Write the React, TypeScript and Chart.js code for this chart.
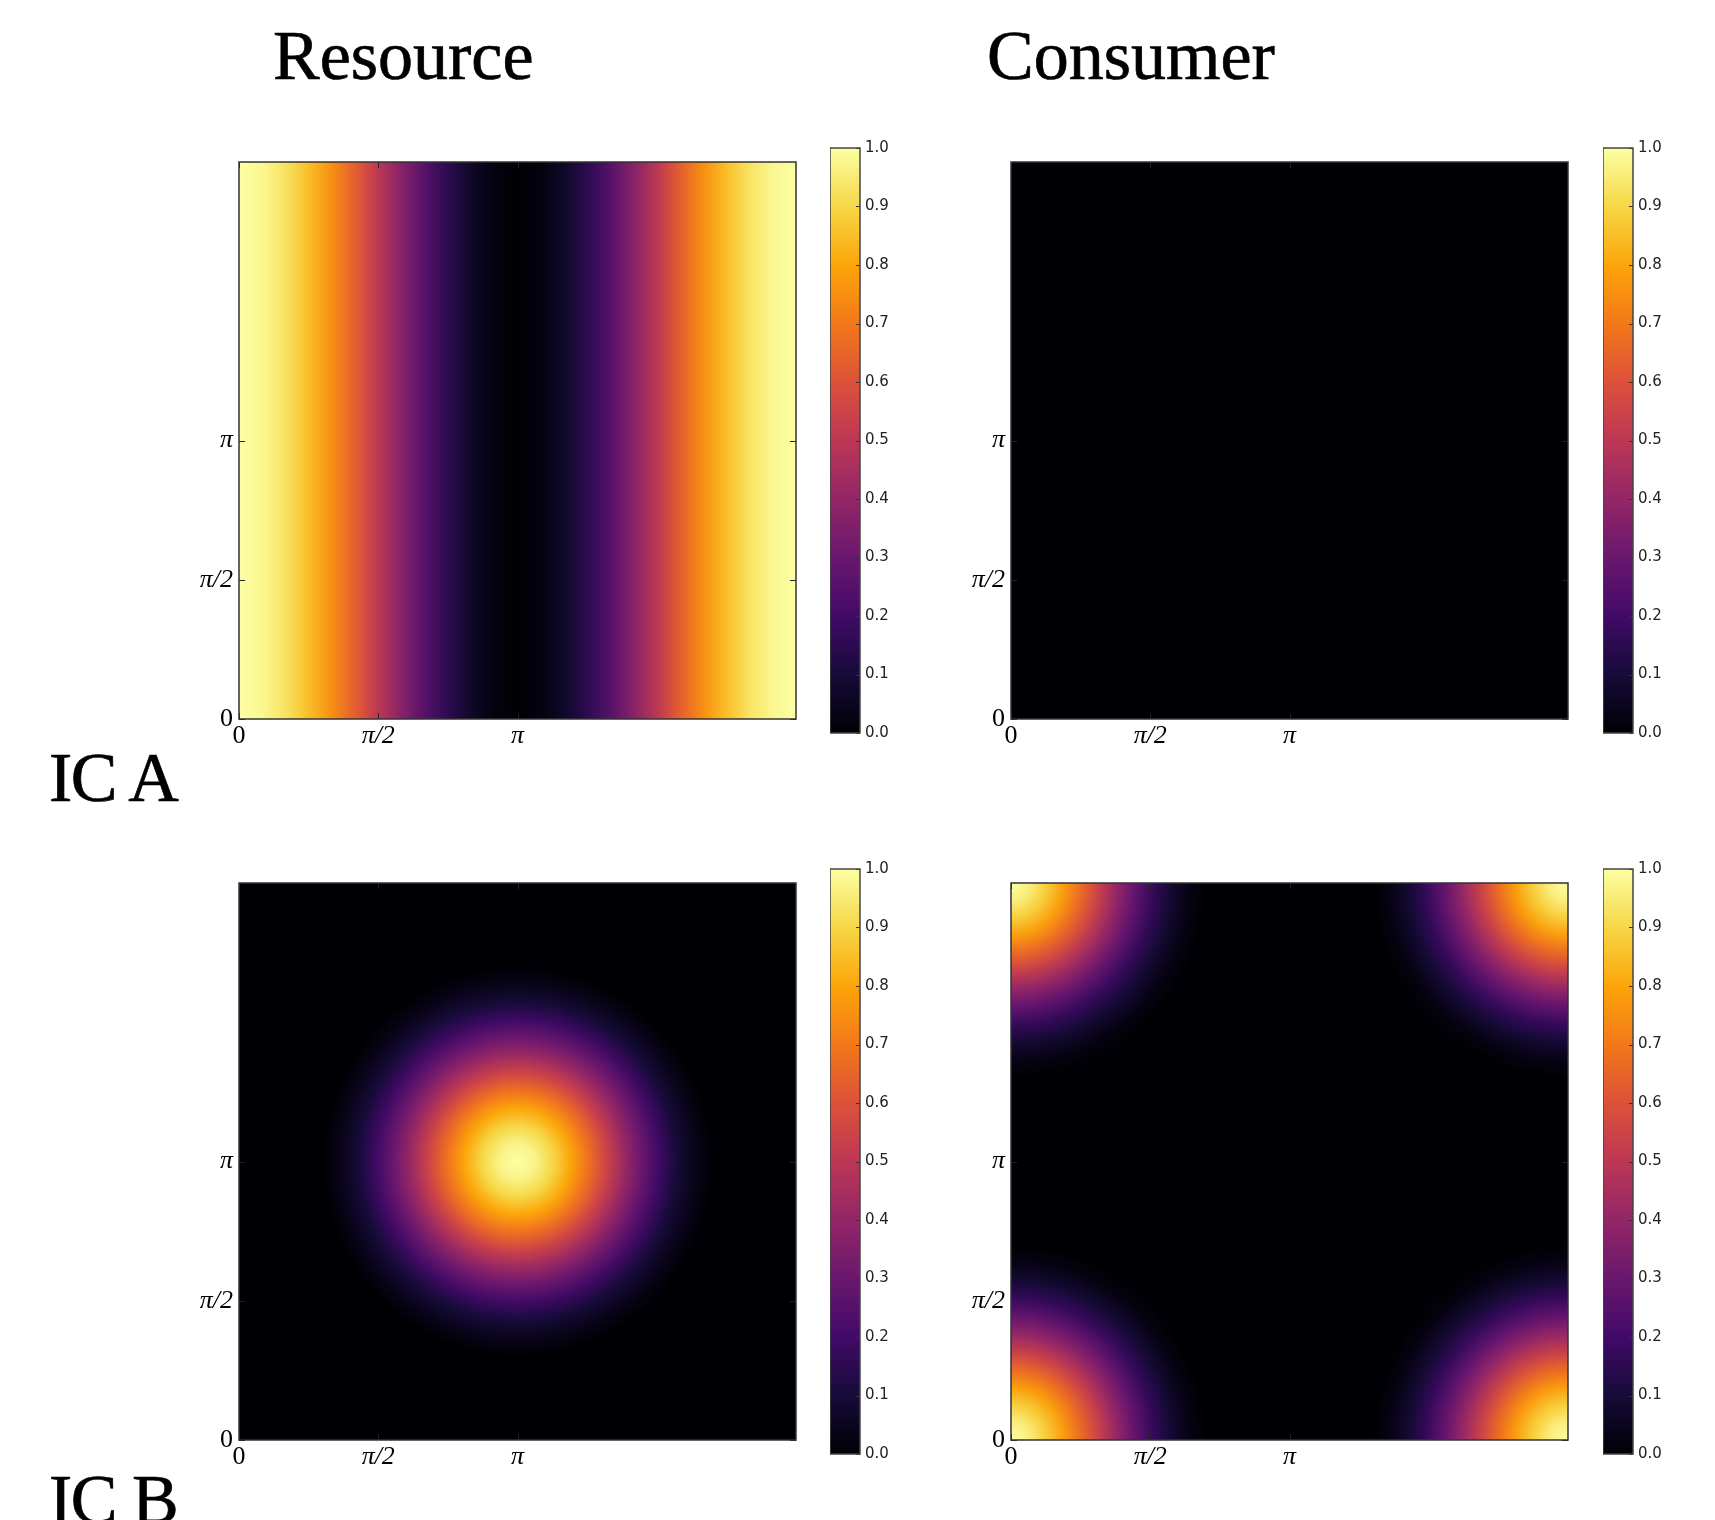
import React, { useEffect, useRef } from 'react';
import { Chart, registerables } from 'chart.js';

Chart.register(...registerables);

const PI = Math.PI;

// ---------- axis / colorbar ticks ----------
const axisTickValues = [0, PI / 2, PI];
const axisTickLabels = ['0', 'π/2', 'π'];
const colorbarTicks = [0, 0.1, 0.2, 0.3, 0.4, 0.5, 0.6, 0.7, 0.8, 0.9, 1.0];

// ---------- inferno colormap key colours at 0, 0.1, ..., 1 ----------
const infernoStops = [
  '#000004', '#160b39', '#420a68', '#6a176e', '#932667', '#bc3754',
  '#dd513a', '#f37819', '#fca50a', '#f6d746', '#fcffa4',
];

// ---------- Resource, IC A : value across x (uniform along y), x in units of π ----------
const resourceA_xPi = [
  0, 0.083, 0.167, 0.25, 0.333, 0.417, 0.5, 0.583, 0.667, 0.75, 0.833, 0.917, 1,
  1.083, 1.167, 1.25, 1.333, 1.417, 1.5, 1.583, 1.667, 1.75, 1.833, 1.917, 2,
];
const resourceA_values = [
  1.0, 0.98, 0.93, 0.85, 0.75, 0.63, 0.5, 0.37, 0.25, 0.15, 0.07, 0.02, 0.0,
  0.02, 0.07, 0.15, 0.25, 0.37, 0.5, 0.63, 0.75, 0.85, 0.93, 0.98, 1.0,
];

// ---------- Consumer, IC A : zero everywhere ----------
const consumerA_xPi = [0, 1, 2];
const consumerA_values = [0, 0, 0];

// ---------- Resource, IC B : one blob, radial profile (radius in radians) ----------
const resourceB_centreXPi = [1];
const resourceB_centreYPi = [1];
const resourceB_radius = [0, 0.2, 0.4, 0.6, 0.8, 1.0, 1.2, 1.4, 1.6, 1.8, 2.0, 2.2];
const resourceB_values = [1.0, 0.97, 0.9, 0.8, 0.68, 0.55, 0.42, 0.3, 0.19, 0.1, 0.04, 0.0];

// ---------- Consumer, IC B : blobs in the four corners ----------
const consumerB_centreXPi = [0, 2, 0, 2];
const consumerB_centreYPi = [0, 0, 2, 2];
const consumerB_radius = [0, 0.2, 0.4, 0.6, 0.8, 1.0, 1.2, 1.4, 1.6, 1.8, 2.0, 2.2];
const consumerB_values = [1.0, 0.96, 0.88, 0.78, 0.66, 0.53, 0.4, 0.28, 0.17, 0.09, 0.03, 0.0];

// ---------- helpers ----------
function hexToRgb(h: string): number[] {
  const n = parseInt(h.slice(1), 16);
  return [(n >> 16) & 255, (n >> 8) & 255, n & 255];
}
const infernoRgb = infernoStops.map(hexToRgb);
function inferno(v: number): string {
  const t = Math.max(0, Math.min(1, v)) * (infernoRgb.length - 1);
  const i = Math.min(Math.floor(t), infernoRgb.length - 2);
  const f = t - i;
  const a = infernoRgb[i];
  const b = infernoRgb[i + 1];
  const c = a.map((x, k) => Math.round(x + (b[k] - x) * f));
  return `rgb(${c[0]},${c[1]},${c[2]})`;
}

function columnDataset(xPi: number[], values: number[]) {
  return {
    type: 'line',
    data: xPi.map((x) => ({ x: x * PI, y: 2 * PI })),
    fill: 'start',
    borderWidth: 0,
    pointRadius: 0,
    tension: 0,
    clip: 0,
    backgroundColor: (ctx: any) => {
      const chart = ctx.chart;
      if (!chart.chartArea) return inferno(0);
      const xs = chart.scales.x;
      const x0 = xs.getPixelForValue(xPi[0] * PI);
      const x1 = xs.getPixelForValue(xPi[xPi.length - 1] * PI);
      const g = chart.ctx.createLinearGradient(x0, 0, x1, 0);
      xPi.forEach((x, i) => {
        const off = (xs.getPixelForValue(x * PI) - x0) / (x1 - x0);
        g.addColorStop(Math.max(0, Math.min(1, off)), inferno(values[i]));
      });
      return g;
    },
  };
}

function radialDataset(cxPi: number[], cyPi: number[], radius: number[], values: number[]) {
  const R = radius[radius.length - 1];
  const pxRadius = (chart: any) => {
    const xs = chart.scales.x;
    return Math.abs(xs.getPixelForValue(R) - xs.getPixelForValue(0));
  };
  return {
    type: 'scatter',
    data: cxPi.map((x, i) => ({ x: x * PI, y: cyPi[i] * PI })),
    clip: 0,
    showLine: false,
    pointBorderWidth: 0,
    pointRadius: (ctx: any) => (ctx.chart.chartArea ? pxRadius(ctx.chart) : 0),
    pointBackgroundColor: (ctx: any) => {
      const chart = ctx.chart;
      if (!chart.chartArea || !ctx.raw) return inferno(0);
      const cx = chart.scales.x.getPixelForValue(ctx.raw.x);
      const cy = chart.scales.y.getPixelForValue(ctx.raw.y);
      const r = pxRadius(chart);
      const g = chart.ctx.createRadialGradient(cx, cy, 0, cx, cy, r);
      radius.forEach((rr, i) => g.addColorStop(rr / R, inferno(values[i])));
      return g;
    },
  };
}

// ---------- layout (page pixels) ----------
const PLOT = 557;
const Y_AXIS_W = 70;
const X_AXIS_H = 45;
const PAD_T = 25;
const PAD_R = 15;
const CB_W = 30;
const CB_H = 585;
const CB_AXIS_W = 45;
const CB_PAD = 14;

const heatFramePlugin = {
  id: 'heatFrame',
  beforeDatasetsDraw(chart: any) {
    const { ctx, chartArea: a } = chart;
    ctx.save();
    ctx.fillStyle = inferno(0);
    ctx.fillRect(a.left, a.top, a.right - a.left, a.bottom - a.top);
    ctx.restore();
  },
  afterDatasetsDraw(chart: any) {
    const { ctx, chartArea: a, scales } = chart;
    const L = 6;
    ctx.save();
    ctx.strokeStyle = '#222';
    ctx.lineWidth = 1;
    ctx.beginPath();
    scales.x.ticks.forEach((t: any) => {
      const p = Math.round(scales.x.getPixelForValue(t.value)) + 0.5;
      ctx.moveTo(p, a.bottom); ctx.lineTo(p, a.bottom - L);
      ctx.moveTo(p, a.top); ctx.lineTo(p, a.top + L);
    });
    scales.y.ticks.forEach((t: any) => {
      const p = Math.round(scales.y.getPixelForValue(t.value)) + 0.5;
      ctx.moveTo(a.left, p); ctx.lineTo(a.left + L, p);
      ctx.moveTo(a.right, p); ctx.lineTo(a.right - L, p);
    });
    ctx.stroke();
    ctx.lineWidth = 1.5;
    ctx.strokeStyle = '#333';
    ctx.strokeRect(a.left, a.top, a.right - a.left, a.bottom - a.top);
    ctx.restore();
  },
};

const cbFramePlugin = {
  id: 'cbFrame',
  afterDatasetsDraw(chart: any) {
    const { ctx, chartArea: a, scales } = chart;
    ctx.save();
    ctx.strokeStyle = '#333';
    ctx.lineWidth = 1;
    ctx.beginPath();
    scales.y.ticks.forEach((t: any) => {
      const p = Math.round(scales.y.getPixelForValue(t.value)) + 0.5;
      ctx.moveTo(a.right, p); ctx.lineTo(a.right - 4, p);
    });
    ctx.stroke();
    ctx.lineWidth = 1.5;
    ctx.strokeStyle = '#444';
    ctx.strokeRect(a.left, a.top, a.right - a.left, a.bottom - a.top);
    ctx.restore();
  },
};

const tickFont = (ctx: any) => ({
  family: 'Liberation Serif',
  size: 26,
  style: axisTickLabels[ctx.index] && axisTickLabels[ctx.index].includes('π') ? 'italic' : 'normal',
});

function axisOptions(axis: 'x' | 'y') {
  return {
    type: 'linear',
    min: 0,
    max: 2 * PI,
    grid: { display: false, drawTicks: false },
    border: { display: false },
    afterBuildTicks: (s: any) => {
      s.ticks = axisTickValues.map((v) => ({ value: v }));
    },
    afterFit: (s: any) => {
      if (axis === 'x') s.height = X_AXIS_H;
      else s.width = Y_AXIS_W;
    },
    ticks: {
      autoSkip: false,
      maxRotation: 0,
      minRotation: 0,
      padding: axis === 'x' ? 2 : 6,
      color: '#000',
      font: tickFont,
      callback: (_v: any, i: number) => axisTickLabels[i],
    },
  };
}

function HeatPanel({ left, top, datasets }: { left: number; top: number; datasets: any[] }) {
  const ref = useRef<HTMLCanvasElement>(null);
  useEffect(() => {
    if (!ref.current) return;
    const chart = new Chart(ref.current, {
      type: 'scatter',
      data: { datasets },
      options: {
        animation: false,
        responsive: false,
        events: [],
        layout: { autoPadding: false, padding: { top: PAD_T, right: PAD_R, left: 0, bottom: 0 } },
        plugins: { legend: { display: false }, tooltip: { enabled: false } },
        scales: { x: axisOptions('x'), y: axisOptions('y') },
      } as any,
      plugins: [heatFramePlugin],
    } as any);
    return () => chart.destroy();
  }, []);
  const w = Y_AXIS_W + PLOT + PAD_R;
  const h = PAD_T + PLOT + X_AXIS_H;
  return (
    <canvas
      ref={ref}
      width={w}
      height={h}
      style={{ position: 'absolute', left: left - Y_AXIS_W, top: top - PAD_T, width: w, height: h }}
    />
  );
}

function Colorbar({ left, top }: { left: number; top: number }) {
  const ref = useRef<HTMLCanvasElement>(null);
  useEffect(() => {
    if (!ref.current) return;
    const chart = new Chart(ref.current, {
      type: 'bar',
      data: {
        labels: [''],
        datasets: [
          {
            data: [[colorbarTicks[0], colorbarTicks[colorbarTicks.length - 1]]],
            borderWidth: 0,
            barPercentage: 1,
            categoryPercentage: 1,
            backgroundColor: (ctx: any) => {
              const c = ctx.chart;
              if (!c.chartArea) return inferno(0);
              const ys = c.scales.y;
              const y0 = ys.getPixelForValue(0);
              const y1 = ys.getPixelForValue(1);
              const g = c.ctx.createLinearGradient(0, y0, 0, y1);
              infernoStops.forEach((col, i) => g.addColorStop(i / (infernoStops.length - 1), col));
              return g;
            },
          },
        ],
      },
      options: {
        animation: false,
        responsive: false,
        events: [],
        layout: { autoPadding: false, padding: { top: CB_PAD, bottom: CB_PAD, left: 0, right: 0 } },
        plugins: { legend: { display: false }, tooltip: { enabled: false } },
        scales: {
          x: { display: false },
          y: {
            position: 'right',
            min: 0,
            max: 1,
            grid: { display: false, drawTicks: false },
            border: { display: false },
            afterBuildTicks: (s: any) => {
              s.ticks = colorbarTicks.map((v) => ({ value: v }));
            },
            afterFit: (s: any) => {
              s.width = CB_AXIS_W;
            },
            ticks: {
              autoSkip: false,
              padding: 5,
              color: '#222',
              font: { family: 'DejaVu Sans', size: 15 },
              callback: (_v: any, i: number) => colorbarTicks[i].toFixed(1),
            },
          },
        },
      } as any,
      plugins: [cbFramePlugin],
    } as any);
    return () => chart.destroy();
  }, []);
  const w = CB_W + CB_AXIS_W;
  const h = CB_H + 2 * CB_PAD;
  return (
    <canvas
      ref={ref}
      width={w}
      height={h}
      style={{ position: 'absolute', left, top: top - CB_PAD, width: w, height: h }}
    />
  );
}

const bigText = (text: string, left: number, baseline: number, spacing = 0) => (
  <div
    style={{
      position: 'absolute',
      left,
      top: baseline - 0.8375 * 70,
      fontFamily: '"Liberation Serif", serif',
      fontSize: 70,
      lineHeight: '70px',
      letterSpacing: spacing,
      whiteSpace: 'nowrap',
      color: '#000',
      WebkitTextStroke: '0.7px #000',
    }}
  >
    {text}
  </div>
);

export default function App() {
  return (
    <div
      style={{
        position: 'absolute',
        left: 0,
        top: 0,
        width: 1715,
        height: 1520,
        overflow: 'hidden',
        background: '#fff',
      }}
    >
      {bigText('Resource', 273, 80)}
      {bigText('Consumer', 987, 80)}
      {bigText('IC A', 49, 802, -1.5)}
      {bigText('IC B', 49, 1524, -1.5)}

      <HeatPanel left={239} top={162} datasets={[columnDataset(resourceA_xPi, resourceA_values)]} />
      <Colorbar left={830} top={148} />
      <HeatPanel left={1011} top={162} datasets={[columnDataset(consumerA_xPi, consumerA_values)]} />
      <Colorbar left={1603} top={148} />

      <HeatPanel
        left={239}
        top={883}
        datasets={[radialDataset(resourceB_centreXPi, resourceB_centreYPi, resourceB_radius, resourceB_values)]}
      />
      <Colorbar left={830} top={869} />
      <HeatPanel
        left={1011}
        top={883}
        datasets={[radialDataset(consumerB_centreXPi, consumerB_centreYPi, consumerB_radius, consumerB_values)]}
      />
      <Colorbar left={1603} top={869} />
    </div>
  );
}
